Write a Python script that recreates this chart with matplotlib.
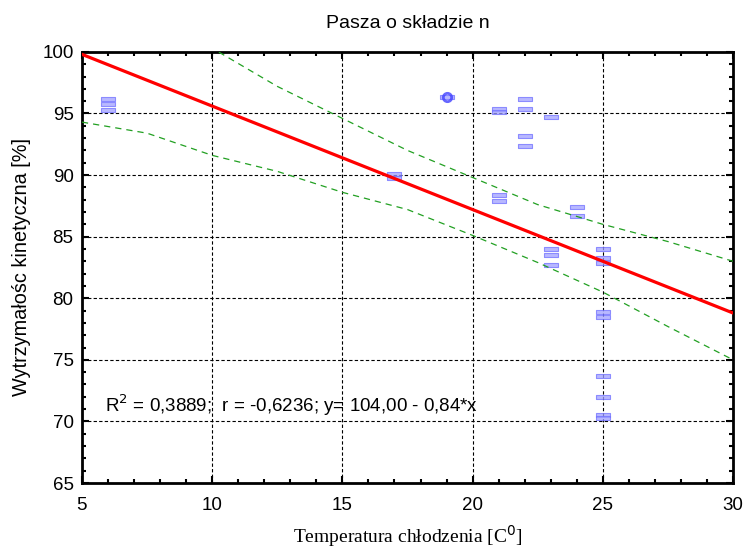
import numpy as np
import matplotlib.pyplot as plt
from matplotlib.ticker import MultipleLocator

# Pasza o skladzie n - regression with confidence band

# Data
temp = [6, 6, 6, 17, 17, 19, 21, 21, 21, 21, 22, 22, 22, 22,
        23, 23, 23, 23, 24, 24, 25, 25, 25, 25, 25, 25, 25, 25, 25]
strength = [96.2, 95.8, 95.3, 90.1, 89.8, 96.3, 95.4, 95.1, 88.4, 87.9,
            96.2, 95.4, 93.2, 92.4, 94.7, 84.0, 83.5, 82.7, 87.4, 86.7,
            84.0, 83.3, 82.9, 78.9, 78.5, 73.7, 72.0, 70.5, 70.3]

# fitted line coefficients
intercept = 104.00
slope = -0.84

# confidence band
band_x = [5, 7.5, 10, 12.5, 15, 17.5, 20, 22.5, 25, 27.5, 30]
band_upper = [105.3, 102.7, 100.3, 97.2, 94.6, 92.0, 89.8, 87.6, 86.0, 84.6, 83.0]
band_lower = [94.3, 93.4, 91.6, 90.3, 88.6, 87.2, 85.1, 82.9, 80.5, 77.7, 75.0]

fig = plt.figure(figsize=(7.45, 5.52), dpi=100)
ax = fig.add_axes([0.110, 0.125, 0.874, 0.781])

# flat bar-like marker
bar = np.array([[-1, -0.3], [1, -0.3], [1, 0.3], [-1, 0.3], [-1, -0.3]])
ax.plot(temp, strength, linestyle='none', marker=bar, markersize=10,
        markerfacecolor='#a0a0ff', markeredgecolor='#7070ff', markeredgewidth=0.8,
        alpha=0.75, zorder=3)
ax.plot(19, 96.3, linestyle='none', marker='o', markersize=6,
        markerfacecolor='none', markeredgecolor='#4040ff', markeredgewidth=2,
        alpha=0.8, zorder=3)

xl = np.array([5, 30])
ax.plot(xl, intercept + slope * xl, color='red', linewidth=2.3, zorder=4)
ax.plot(band_x, band_upper, color='#22a022', linewidth=0.9, dashes=(5, 4), zorder=3)
ax.plot(band_x, band_lower, color='#22a022', linewidth=0.9, dashes=(5, 4), zorder=3)

ax.set_xlim(5, 30)
ax.set_ylim(65, 100)
ax.xaxis.set_major_locator(MultipleLocator(5))
ax.xaxis.set_minor_locator(MultipleLocator(1))
ax.yaxis.set_major_locator(MultipleLocator(5))
ax.yaxis.set_minor_locator(MultipleLocator(1))
ax.tick_params(which='both', direction='in', top=True, right=True, width=1.5)
ax.tick_params(which='major', length=5, labelsize=13.5)
ax.tick_params(which='minor', length=3)
for lab in ax.get_xticklabels() + ax.get_yticklabels():
    lab.set_family('Liberation Sans')
ax.tick_params(axis='x', pad=10)
ax.tick_params(axis='y', pad=6)
for s in ax.spines.values():
    s.set_linewidth(2)

ax.grid(True, which='major', color='black', linestyle=(0, (3, 2)), linewidth=0.8)
ax.set_axisbelow(True)

ax.text(5.9, 71.3, 'R$^2$ = 0,3889;  r = -0,6236; y= 104,00 - 0,84*x',
        fontsize=13.5, family='Liberation Sans', va='center')

ax.set_title('Pasza o składzie n', fontsize=14, family='Liberation Sans', pad=17)
fig.text(0.547, 0.028, 'Temperatura chłodzenia [C$^0$]', fontsize=14,
         family='Liberation Serif', ha='center', va='center')
ax.set_ylabel('Wytrzymałośc kinetyczna [%]', fontsize=14.3,
              family='Liberation Sans', labelpad=8)

fig.savefig('out.png', dpi=100)
